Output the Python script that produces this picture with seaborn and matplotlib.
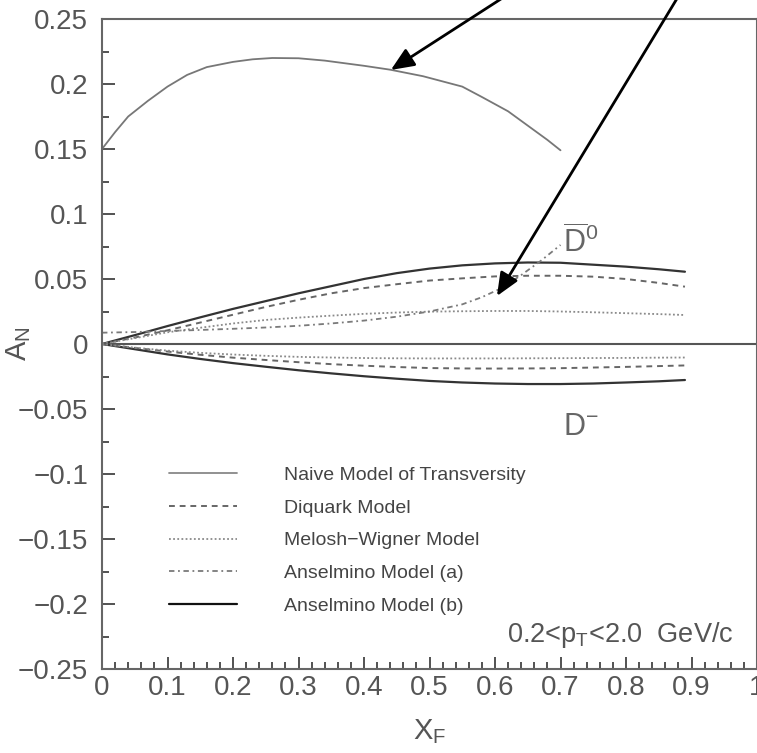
import numpy as np
import pandas as pd
import matplotlib
matplotlib.use('Agg')
import matplotlib.pyplot as plt
import seaborn as sns
from matplotlib.lines import Line2D

# curve above the others (naive transversity)
x_top = [0, 0.02, 0.04, 0.07, 0.10, 0.13, 0.16, 0.20, 0.23, 0.26, 0.30, 0.34,
         0.40, 0.44, 0.49, 0.55, 0.58, 0.62, 0.65, 0.68, 0.70]
y_top = [0.150, 0.163, 0.175, 0.187, 0.198, 0.207, 0.213, 0.217, 0.219, 0.220, 0.2198, 0.218,
         0.214, 0.211, 0.206, 0.198, 0.190, 0.179, 0.168, 0.157, 0.149]

xf = [0, 0.05, 0.10, 0.15, 0.20, 0.25, 0.30, 0.35, 0.40, 0.45, 0.50, 0.55,
      0.60, 0.65, 0.70, 0.75, 0.80, 0.85, 0.89]

# D0bar
ansb_d0 = [0, 0.0068, 0.0138, 0.0205, 0.0270, 0.0330, 0.0390, 0.0445, 0.0500, 0.0545, 0.0580, 0.0605,
           0.0620, 0.0627, 0.0625, 0.0610, 0.0595, 0.0575, 0.0556]
diq_d0 = [0, 0.0050, 0.0105, 0.0165, 0.0225, 0.0285, 0.0340, 0.0390, 0.0430, 0.0460, 0.0488, 0.0505,
          0.0520, 0.0525, 0.0525, 0.0518, 0.0500, 0.0470, 0.0441]
mw_d0 = [0, 0.0045, 0.0090, 0.0125, 0.0158, 0.0185, 0.0203, 0.0218, 0.0232, 0.0242, 0.0249, 0.0252,
         0.0254, 0.0254, 0.0250, 0.0244, 0.0237, 0.0230, 0.0223]

x_ansa = [0, 0.05, 0.10, 0.15, 0.20, 0.25, 0.30, 0.35, 0.40, 0.45, 0.50, 0.55,
          0.58, 0.61, 0.64, 0.67, 0.70]
ansa_d0 = [0.0087, 0.0092, 0.0100, 0.0108, 0.0117, 0.0127, 0.0140, 0.0158, 0.0180, 0.0210, 0.0250, 0.0305,
           0.0360, 0.0430, 0.0530, 0.0640, 0.0762]

# D-
ansb_dm = [0, -0.0040, -0.0080, -0.0115, -0.0147, -0.0175, -0.0202, -0.0226, -0.0248, -0.0267, -0.0284, -0.0296,
           -0.0304, -0.0308, -0.0308, -0.0304, -0.0296, -0.0287, -0.0277]
diq_dm = [0, -0.0030, -0.0058, -0.0083, -0.0105, -0.0123, -0.0140, -0.0155, -0.0167, -0.0177, -0.0185, -0.0188,
          -0.0189, -0.0188, -0.0186, -0.0181, -0.0176, -0.0170, -0.0165]
mw_dm = [0, -0.0028, -0.0051, -0.0068, -0.0081, -0.0091, -0.0099, -0.0104, -0.0108, -0.0110, -0.0111, -0.0111,
         -0.0111, -0.0110, -0.0109, -0.0108, -0.0107, -0.0105, -0.0104]

legend_labels = ['Naive Model of Transversity', 'Diquark Model', 'Melosh\u2212Wigner Model',
                 'Anselmino Model (a)', 'Anselmino Model (b)']
x_ticks = [0, 0.1, 0.2, 0.3, 0.4, 0.5, 0.6, 0.7, 0.8, 0.9, 1.0]
x_tick_labels = ['0', '0.1', '0.2', '0.3', '0.4', '0.5', '0.6', '0.7', '0.8', '0.9', '1']
y_ticks = [-0.25, -0.2, -0.15, -0.1, -0.05, 0, 0.05, 0.1, 0.15, 0.2, 0.25]
y_tick_labels = ['\u22120.25', '\u22120.2', '\u22120.15', '\u22120.1', '\u22120.05', '0',
                 '0.05', '0.1', '0.15', '0.2', '0.25']

sns.set_style('ticks')
plt.rcParams['font.family'] = ['Liberation Sans', 'DejaVu Sans']
plt.rcParams['mathtext.fontset'] = 'custom'
plt.rcParams['mathtext.rm'] = 'Liberation Sans'
plt.rcParams['mathtext.it'] = 'Liberation Sans:italic'
plt.rcParams['mathtext.bf'] = 'Liberation Sans:bold'

fig = plt.figure(figsize=(7.57, 7.53), dpi=100)
ax = fig.add_axes([102 / 757, 1 - 669 / 753, 655 / 757, 650 / 753])

styles = {
    'naive': dict(color='#777777', lw=1.3, linestyle='-'),
    'diq': dict(color='#666666', lw=1.4, linestyle=(0, (3, 2.5))),
    'mw': dict(color='#8a8a8a', lw=1.3, linestyle=(0, (1, 1.3))),
    'ansa': dict(color='#7a7a7a', lw=1.3, linestyle=(0, (3, 2, 1, 2))),
    'ansb': dict(color='#333333', lw=1.6, linestyle='-'),
}

sns.lineplot(x=x_top, y=y_top, ax=ax, **styles['naive'])
sns.lineplot(x=xf, y=ansb_d0, ax=ax, **styles['ansb'])
sns.lineplot(x=xf, y=diq_d0, ax=ax, **styles['diq'])
sns.lineplot(x=xf, y=mw_d0, ax=ax, **styles['mw'])
sns.lineplot(x=x_ansa, y=ansa_d0, ax=ax, **styles['ansa'])
sns.lineplot(x=xf, y=ansb_dm, ax=ax, **styles['ansb'])
sns.lineplot(x=xf, y=diq_dm, ax=ax, **styles['diq'])
sns.lineplot(x=xf, y=mw_dm, ax=ax, **styles['mw'])

ax.axhline(0, color='#555555', lw=1.5, zorder=1)

ax.set_xlim(0, 1)
ax.set_ylim(-0.25, 0.25)
ax.set_xticks(x_ticks)
ax.set_xticklabels(x_tick_labels)
ax.set_yticks(y_ticks)
ax.set_yticklabels(y_tick_labels)
ax.set_xticks(np.arange(0, 1.0001, 0.02), minor=True)
ax.set_yticks(np.arange(-0.25, 0.2501, 0.025), minor=True)
ax.tick_params(which='both', direction='in', color='#444444', width=1.3,
               top=False, right=False)
ax.tick_params(which='major', length=9, labelsize=20, labelcolor='#555555')
ax.tick_params(which='minor', length=5)
ax.tick_params(axis='x', pad=4)
ax.tick_params(axis='y', pad=10)
for s in ax.spines.values():
    s.set_color('#666666')
    s.set_linewidth(1.5)

ax.set_xlabel('X$_{\\mathregular{F}}$', fontsize=21, color='#555555', labelpad=12)
ax.set_ylabel('A$_{\\mathregular{N}}$', fontsize=21, color='#555555')
ax.yaxis.set_label_coords(-0.105, 0.5)

handles = [Line2D([], [], **styles[k]) for k in ['naive', 'diq', 'mw', 'ansa', 'ansb']]
handles[0].set_color('#888888')
handles[4].set_color('#111111')
ax.legend(handles, legend_labels, loc='upper left', bbox_to_anchor=(0.102, 0.312),
          frameon=False, fontsize=14, handlelength=3.5, handletextpad=2.4,
          labelspacing=0.78, borderpad=0, borderaxespad=0, labelcolor='#444444')

ax.text(0.964, -0.229, '0.2<p$_{\\mathregular{T}}$<2.0  GeV/c', fontsize=19.5,
        color='#555555', ha='right', va='baseline')
ax.text(0.704, 0.070, r'$\overline{\rm D}^{\rm 0}$', fontsize=22, color='#666666',
        ha='left', va='baseline')
ax.text(0.704, -0.070, r'$\rm D^{-}$', fontsize=22, color='#666666',
        ha='left', va='baseline')

arrow = dict(arrowstyle='-|>,head_length=0.7,head_width=0.3', color='black', lw=2,
             mutation_scale=20, shrinkA=0, shrinkB=0)
ax.annotate('', xy=(0.441, 0.2108), xytext=(0.654, 0.280), arrowprops=arrow,
            annotation_clip=False)
ax.annotate('', xy=(0.603, 0.0369), xytext=(0.895, 0.280), arrowprops=arrow,
            annotation_clip=False)

fig.savefig('out.png', dpi=100)
